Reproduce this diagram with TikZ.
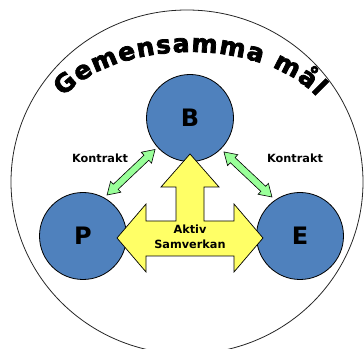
\documentclass[tikz,border=0pt]{standalone}
\usepackage{fontspec}
\setmainfont{DejaVu Sans}
\newfontfamily\heavyfont[FakeBold=3]{DejaVu Sans Bold}
\usetikzlibrary{calc,decorations.text}
\definecolor{circblue}{HTML}{4F81BD}
\definecolor{arrowyellow}{HTML}{FFFF66}
\definecolor{arrowgreen}{HTML}{99FF99}
\tikzset{
  circ/.style={circle, draw=black, line width=0.8pt, fill=circblue, minimum size=87pt, inner sep=0pt,
    font=\fontsize{24}{24}\selectfont\bfseries},
  lbl/.style={font=\fontsize{11.3}{14}\selectfont\bfseries, inner sep=0pt},
  yarrow/.style={draw=black, line width=0.7pt, fill=arrowyellow, line join=miter},
  greenarrow/.style={draw=black, line width=0.6pt, fill=arrowgreen, line join=miter},
  outer/.style={draw=black!85, line width=0.8pt}
}
\newcommand{\kontraktarrow}[2]{%
  \coordinate (ka1) at ($(#1)!12pt!(#2)$);
  \coordinate (kb1) at ($(#2)!12pt!(#1)$);
  \filldraw[greenarrow] (#1) -- ($(ka1)!7.5pt!90:(#2)$) -- ($(ka1)!3.5pt!90:(#2)$)
    -- ($(kb1)!3.5pt!-90:(#1)$) -- ($(kb1)!7.5pt!-90:(#1)$) -- (#2)
    -- ($(kb1)!7.5pt!90:(#1)$) -- ($(kb1)!3.5pt!90:(#1)$)
    -- ($(ka1)!3.5pt!-90:(#2)$) -- ($(ka1)!7.5pt!-90:(#2)$) -- cycle;
}
\begin{document}
\begin{tikzpicture}[x=1pt,y=1pt]
\useasboundingbox (0,0) rectangle (364,348);
% outer ellipse
\draw[outer] (187,166) ellipse [x radius=176pt, y radius=172pt];
% arched title
\path[decorate, decoration={text along path,
   text={|\heavyfont\fontsize{25}{25}\selectfont|Gemensamma mål},
   text align={fit to path}}]
   (190,209) ++(151:145pt and 87pt) arc[start angle=151, end angle=29, x radius=145pt, y radius=87pt];
% circles
\node[circ] (B) at (190,230) {B};
\node[circ] (P) at (83,112) {P};
\node[circ] (E) at (300,112) {E};
% labels
\node[lbl] (k1) at (100,190) {Kontrakt};
\node[lbl] (k2) at (295,190) {Kontrakt};
% green contract arrows
\coordinate (bl) at ($(B)+(222:47pt)$);
\coordinate (pl) at ($(P)+(59.6:47.5pt)$);
\coordinate (br) at ($(B)+(-45:48pt)$);
\coordinate (er) at ($(E)+(125.7:48pt)$);
\kontraktarrow{pl}{bl}
\kontraktarrow{br}{er}
% yellow three-way arrow
\filldraw[yarrow] (117,110) -- (146,144) -- (146,127) -- (176,127) -- (176,161) -- (161,161)
  -- (190,194) -- (219,161) -- (204,161) -- (204,127) -- (234,127) -- (234,144)
  -- (263,110) -- (234,76) -- (234,92) -- (146,92) -- (146,76) -- cycle;
\node[lbl, align=center, font=\fontsize{11.3}{15}\selectfont\bfseries] (akt) at (190,111.5) {Aktiv\\Samverkan};
\end{tikzpicture}
\end{document}
